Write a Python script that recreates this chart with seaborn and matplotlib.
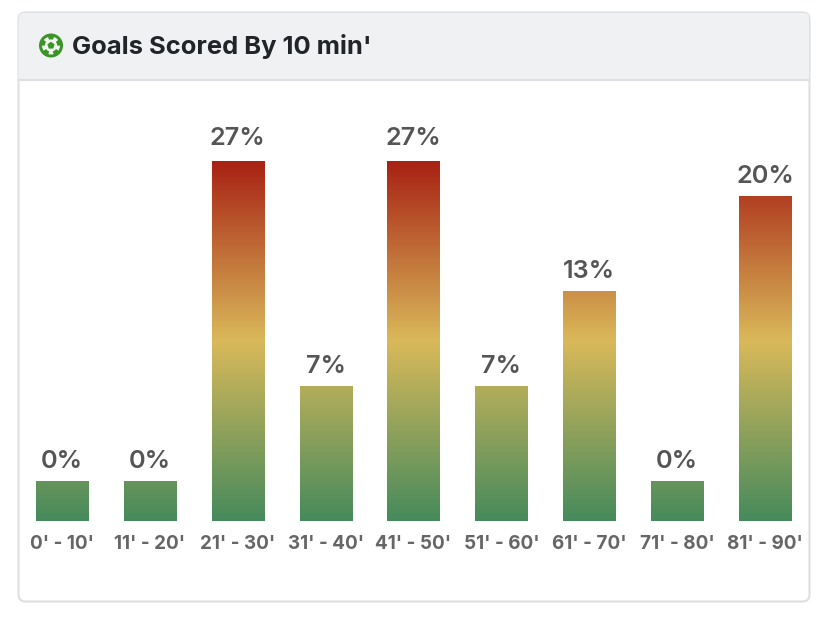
import numpy as np
import pandas as pd
import matplotlib
matplotlib.use("Agg")
import matplotlib.pyplot as plt
from matplotlib.colors import LinearSegmentedColormap
from matplotlib.patches import Circle, FancyBboxPatch, Rectangle, RegularPolygon, Wedge
import seaborn as sns

# Share of goals per ten-minute window (15 goals in total)
periods = ["0' - 10'", "11' - 20'", "21' - 30'", "31' - 40'", "41' - 50'",
           "51' - 60'", "61' - 70'", "71' - 80'", "81' - 90'"]
goal_share = [0, 0, 26.67, 6.67, 26.67, 6.67, 13.33, 0, 20]
card_title = "Goals Scored By 10 min'"

W, H = 828, 617
sns.set_theme(style="white")
plt.rcParams["font.family"] = ["Inter", "DejaVu Sans"]

fig = plt.figure(figsize=(W / 100, H / 100), dpi=100, facecolor="white")

# Card background in pixel coordinates
bg = fig.add_axes([0, 0, 1, 1], zorder=0)
bg.set_xlim(0, W)
bg.set_ylim(H, 0)
bg.axis("off")
border = "#dedfe3"
card = FancyBboxPatch((18.5, 12.5), 791, 589, boxstyle="round,pad=0,rounding_size=7",
                      fc="white", ec=border, lw=1.5)
bg.add_patch(card)
header = Rectangle((18, 13), 791, 66, fc="#f0f1f3", ec="none", clip_path=card)
bg.add_patch(header)
header.set_clip_path(card)
bg.plot([18.5, 809], [79.5, 79.5], color=border, lw=1.5, solid_capstyle="butt")
bg.text(72, 46.5, card_title, fontsize=18.4, fontweight="bold", color="#212529",
        va="center", ha="left")

# Football icon
ball = (51, 45.5)
green = "#3a9427"
bg.add_patch(Circle(ball, 12, fc=green, ec="none"))
bg.add_patch(Circle(ball, 9.0, fc="#f2f6f0", ec="none"))
for start in range(-90, 270, 72):
    bg.add_patch(Wedge(ball, 9.5, start - 19, start + 19, width=3.4, fc=green, ec="none"))
bg.add_patch(RegularPolygon(ball, 5, radius=3.8, orientation=np.pi, fc=green, ec="none"))

# Plot area: the tallest bars run past the scale and stop at its top edge
px_per_unit = 95 / 6.67
ax_left, ax_right = 18.1, 809.0
ax_top, ax_bottom = 161, 521
ax = fig.add_axes([ax_left / W, 1 - ax_bottom / H, (ax_right - ax_left) / W, (ax_bottom - ax_top) / H],
                  zorder=1, facecolor="none")
data = pd.DataFrame({"period": periods, "share": goal_share})
sns.barplot(data=data, x="period", y="share", width=0.595, color="white", saturation=1, ax=ax)

y_min, y_max = -40 / px_per_unit, 320 / px_per_unit
ax.set_ylim(y_min, y_max)

# Every bar samples the same vertical gradient, fixed to the axes height
cmap = LinearSegmentedColormap.from_list(
    "heat", [(0, "#468a5c"), (0.5, "#d9b95a"), (1, "#a82214")])
gradient = np.linspace(1, 0, 512).reshape(-1, 1)
for bar, value in zip(ax.patches, goal_share):
    # Zero-share windows keep a stub, so the bars start below the zero line
    bar.set_y(y_min)
    bar.set_height(value - y_min)
    bar.set_facecolor("none")
    x0 = bar.get_x()
    im = ax.imshow(gradient, extent=[x0, x0 + bar.get_width(), y_min, y_max], cmap=cmap,
                   vmin=0, vmax=1, aspect="auto", interpolation="bilinear", zorder=2)
    im.set_clip_path(bar)
    lift = 16.0 if value > y_max else 13.8
    ax.annotate(f"{value:.0f}%", (x0 + bar.get_width() / 2, min(value, y_max)),
                xytext=(0, lift), textcoords="offset points", ha="center", va="center",
                fontsize=18.2, fontweight="semibold", color="#555555", annotation_clip=False)

ax.set_xlim(-0.5, len(periods) - 0.5)
ax.set_ylim(y_min, y_max)
ax.set_xlabel("")
ax.set_ylabel("")
ax.set_yticks([])
ax.tick_params(axis="x", length=0, pad=10.2, labelsize=13.6, labelcolor="#666666")
for label in ax.get_xticklabels():
    label.set_fontweight("bold")
sns.despine(ax=ax, left=True, bottom=True)

fig.savefig("out.png", dpi=100, facecolor="white")
